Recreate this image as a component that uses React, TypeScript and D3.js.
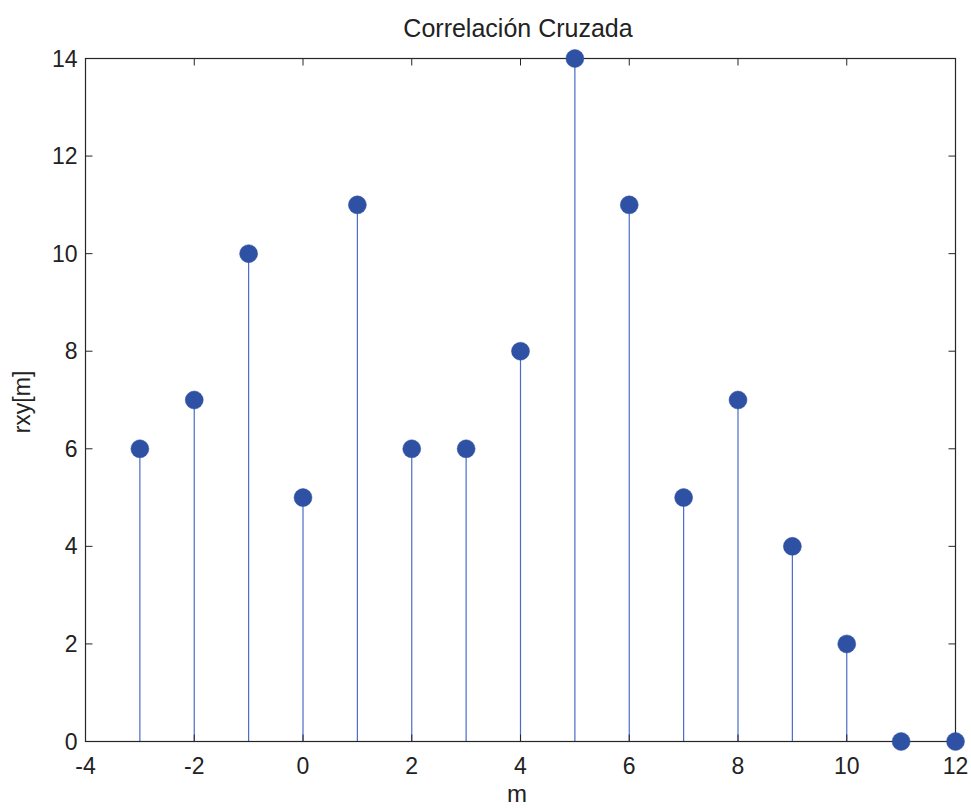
import React from "react";
import * as d3 from "d3";

const mValues = [-3, -2, -1, 0, 1, 2, 3, 4, 5, 6, 7, 8, 9, 10, 11, 12];
const rxyValues = [6, 7, 10, 5, 11, 6, 6, 8, 14, 11, 5, 7, 4, 2, 0, 0];
const xTicks = [-4, -2, 0, 2, 4, 6, 8, 10, 12];
const yTicks = [0, 2, 4, 6, 8, 10, 12, 14];
const titleText = "Correlación Cruzada";
const xLabel = "m";
const yLabel = "rxy[m]";

export default function App() {
  const W = 971, H = 808;
  const left = 85.5, right = 955.5, top = 58.5, bottom = 741.5;
  const x = d3.scaleLinear().domain([-4, 12]).range([left, right]);
  const y = d3.scaleLinear().domain([0, 14]).range([bottom, top]);
  const font = "'Liberation Sans', Arial, sans-serif";
  const axisColor = "#262626";
  const tl = 7;
  return (
    <svg width={W} height={H} style={{ position: "absolute", left: 0, top: 0, background: "#fff" }}>
      <rect x={0} y={0} width={W} height={H} fill="#fff" />
      {mValues.map((m, i) => (
        <line key={"s" + i} x1={x(m)} x2={x(m)} y1={y(0)} y2={y(rxyValues[i])} stroke="#4a6cc8" strokeWidth={1.2} />
      ))}
      {xTicks.map((t) => (
        <g key={"xt" + t}>
          <line x1={x(t)} x2={x(t)} y1={bottom} y2={bottom - tl} stroke={axisColor} />
          <line x1={x(t)} x2={x(t)} y1={top} y2={top + tl} stroke={axisColor} />
          <text x={x(t)} y={bottom + 32} textAnchor="middle" fontFamily={font} fontSize={23} fill="#222">{t}</text>
        </g>
      ))}
      {yTicks.map((t) => (
        <g key={"yt" + t}>
          <line x1={left} x2={left + tl} y1={y(t)} y2={y(t)} stroke={axisColor} />
          <line x1={right} x2={right - tl} y1={y(t)} y2={y(t)} stroke={axisColor} />
          <text x={left - 8} y={y(t) + 8} textAnchor="end" fontFamily={font} fontSize={23} fill="#222">{t}</text>
        </g>
      ))}
      <rect x={left} y={top} width={right - left} height={bottom - top} fill="none" stroke={axisColor} strokeWidth={1.2} />
      {mValues.map((m, i) => (
        <circle key={"c" + i} cx={x(m)} cy={y(rxyValues[i])} r={9} fill="#2e51a3" stroke="#2e51a3" strokeWidth={0.5} />
      ))}
      <text x={518} y={37} textAnchor="middle" fontFamily={font} fontSize={25} fill="#222">{titleText}</text>
      <text x={517} y={802} textAnchor="middle" fontFamily={font} fontSize={24} fill="#222">{xLabel}</text>
      <text transform={`translate(30, ${402}) rotate(-90)`} textAnchor="middle" fontFamily={font} fontSize={23} fill="#222">{yLabel}</text>
    </svg>
  );
}
